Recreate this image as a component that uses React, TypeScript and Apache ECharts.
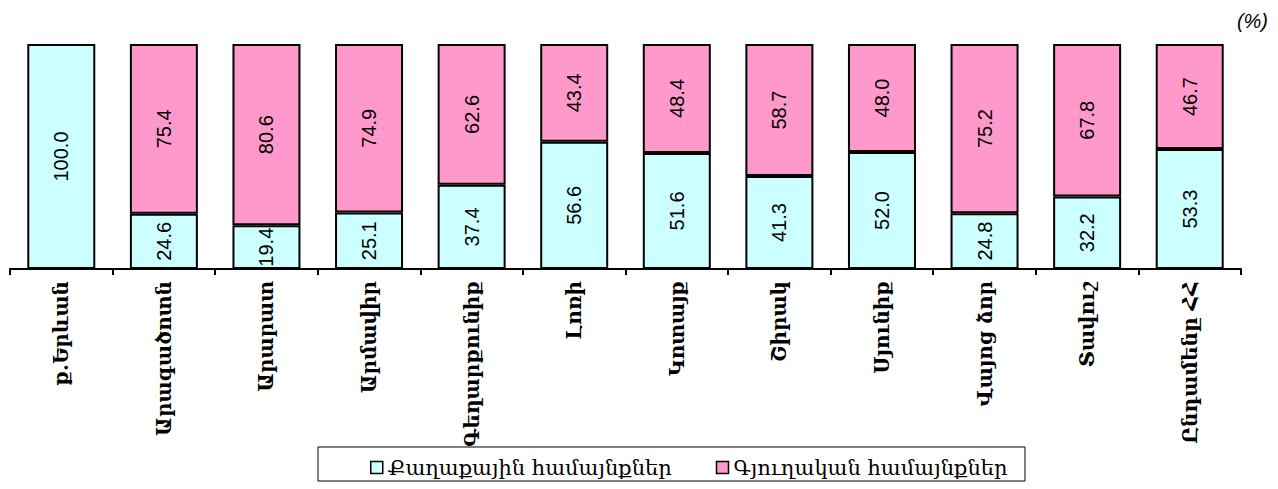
import React, { useEffect, useRef } from "react";
import * as echarts from "echarts";

const categories = [
  "ք.Երևան",
  "Արագածոտն",
  "Արարատ",
  "Արմավիր",
  "Գեղարքունիք",
  "Լոռի",
  "Կոտայք",
  "Շիրակ",
  "Սյունիք",
  "Վայոց ձոր",
  "Տավուշ",
  "Ընդամենը ՀՀ",
];
const urbanValues = [100.0, 24.6, 19.4, 25.1, 37.4, 56.6, 51.6, 41.3, 52.0, 24.8, 32.2, 53.3];
const ruralValues: (number | null)[] = [null, 75.4, 80.6, 74.9, 62.6, 43.4, 48.4, 58.7, 48.0, 75.2, 67.8, 46.7];
const seriesNames = ["Քաղաքային համայնքներ", "Գյուղական համայնքներ"];
const unitLabel = "(%)";

const armFont = "'DejaVu Serif', 'DejaVu Sans', serif";

export default function App() {
  const ref = useRef<HTMLDivElement>(null);
  useEffect(() => {
    if (!ref.current) return;
    const chart = echarts.init(ref.current, null, { renderer: "svg" });
    const labelCfg = {
      show: true,
      position: "inside",
      rotate: 90,
      color: "#000",
      fontSize: 20,
      fontFamily: "Arial, 'Liberation Sans', sans-serif",
      formatter: (p: any) => (p.value == null ? "" : Number(p.value).toFixed(1)),
    };
    chart.setOption({
      animation: false,
      backgroundColor: "#fff",
      grid: { left: 10, right: 37, top: 44, bottom: 220, containLabel: false },
      xAxis: {
        type: "category",
        data: categories,
        axisLine: { show: true, lineStyle: { color: "#000", width: 2 } },
        axisTick: { show: true, length: 6, lineStyle: { color: "#000", width: 2 } },
        axisLabel: {
          rotate: 90,
          interval: 0,
          margin: 12,
          color: "#000",
          fontSize: 20,
          fontWeight: "bold",
          fontFamily: armFont,
        },
      },
      yAxis: {
        type: "value",
        min: 0,
        max: 100,
        show: false,
        splitLine: { show: false },
      },
      legend: {
        left: 365,
        top: 452,
        itemWidth: 12,
        itemHeight: 12,
        itemGap: 44,
        icon: "rect",
        textStyle: { color: "#000", fontSize: 21, fontFamily: armFont },
        itemStyle: { borderColor: "#000", borderWidth: 1.5 },
        data: seriesNames,
      },
      graphic: [
        {
          type: "rect",
          shape: { x: 318, y: 447, width: 707, height: 34 },
          style: { fill: "none", stroke: "#000", lineWidth: 1 },
          silent: true,
        },
        {
          type: "text",
          right: 10,
          top: 11,
          style: {
            text: unitLabel,
            fill: "#000",
            font: "italic 20px Arial, 'Liberation Sans', sans-serif",
          },
        },
      ],
      series: [
        {
          name: seriesNames[0],
          type: "bar",
          stack: "total",
          barWidth: 68,
          data: urbanValues,
          itemStyle: { color: "#CCFFFF", borderColor: "#000", borderWidth: 2 },
          label: labelCfg,
        },
        {
          name: seriesNames[1],
          type: "bar",
          stack: "total",
          barWidth: 68,
          data: ruralValues,
          itemStyle: { color: "#FF99CC", borderColor: "#000", borderWidth: 2 },
          label: labelCfg,
        },
      ],
    });
    return () => chart.dispose();
  }, []);
  return (
    <div
      ref={ref}
      style={{ position: "absolute", left: 0, top: 0, width: 1278, height: 489 }}
    />
  );
}
